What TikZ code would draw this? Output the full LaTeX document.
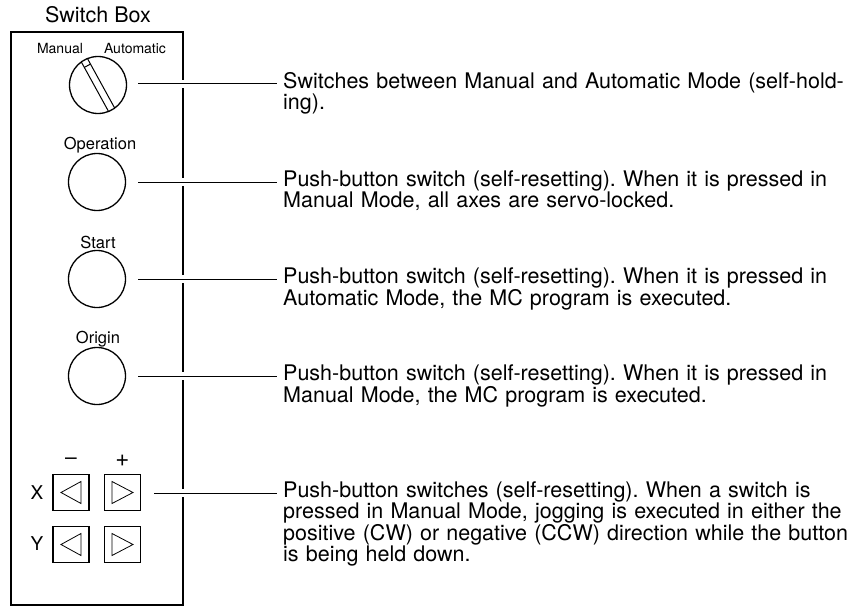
\documentclass[tikz,border=0pt]{standalone}
\usepackage{fontspec}
\setmainfont{TeX Gyre Heros}
\frenchspacing
\begin{document}
\frenchspacing
\begin{tikzpicture}[x=1pt,y=-1pt,
  desc/.style={anchor=base west,inner sep=0pt,text width=570pt,align=left,
    font=\fontsize{21.5}{18}\selectfont\frenchspacing},
  knob/.style={draw,circle,minimum size=57pt,inner sep=0pt,line width=1.3pt},
  jog/.style={draw,minimum size=36pt,inner sep=0pt,line width=1.3pt},
  lbl/.style={inner sep=0pt,font=\fontsize{16.5}{18}\selectfont},
  tiny/.style={inner sep=0pt,font=\fontsize{14}{16}\selectfont},
  sign/.style={inner sep=0pt,font=\fontsize{24}{24}\selectfont},
  conn/.style={line width=1pt,preaction={draw=white,line width=8pt}},
  tri/.style={line width=0.8pt}]
\useasboundingbox (0,0) rectangle (859,607);
% title and box
\node[inner sep=0pt,font=\fontsize{21.5}{24}\selectfont] (title) at (98,15) {Switch Box};
\draw[line width=2pt] (11,32) rectangle (183,605);
% dial
\node[tiny] (man) at (60,49) {Manual};
\node[tiny] (auto) at (135,49) {Automatic};
\node[knob] (dial) at (98,85) {};
\draw[line width=1pt] (81.29,61.9) -- (108.57,111.48);
\draw[line width=1pt] (87.43,58.52) -- (114.71,108.1);
\draw[line width=1pt] (84.33,67.42) -- (90.47,64.04);
% buttons
\node[lbl] (lop) at (100,145) {Operation};
\node[knob] (op) at (97,182) {};
\node[lbl] (lst) at (98,242) {Start};
\node[knob] (st) at (97,279) {};
\node[lbl] (lor) at (98,339) {Origin};
\node[knob] (orig) at (97,376) {};
% jog buttons
\node[inner sep=0pt,font=\fontsize{21}{22}\selectfont] (minus) at (71,461) {–};
\node[sign] (plus) at (122.5,461) {+};
\node[inner sep=0pt,font=\fontsize{19}{20}\selectfont] (xl) at (37,493) {X};
\node[inner sep=0pt,font=\fontsize{19}{20}\selectfont] (yl) at (37,544) {Y};
\node[jog] (xm) at (71,492.5) {};
\node[jog] (xp) at (122.5,492.5) {};
\node[jog] (ym) at (71,544.5) {};
\node[jog] (yp) at (122.5,544.5) {};
\foreach \s in {xm,ym}{
  \draw[tri] ([xshift=-10pt]\s.center) -- ([xshift=10pt,yshift=-11pt]\s.center)
    -- ([xshift=10pt,yshift=11pt]\s.center) -- cycle;}
\foreach \s in {xp,yp}{
  \draw[tri] ([xshift=10.5pt]\s.center) -- ([xshift=-10.5pt,yshift=-11pt]\s.center)
    -- ([xshift=-10.5pt,yshift=11pt]\s.center) -- cycle;}
% descriptions
\node[desc] (d1) at (283,88.5) {Switches between Manual and Automatic Mode (self-hold-\\ing).};
\node[desc] (d2) at (283,186.5) {Push-button switch (self-resetting). When it is pressed in\\Manual Mode, all axes are servo-locked.};
\node[desc] (d3) at (283,283.5) {Push-button switch (self-resetting). When it is pressed in\\Automatic Mode, the MC program is executed.};
\node[desc] (d4) at (283,380.5) {Push-button switch (self-resetting). When it is pressed in\\Manual Mode, the MC program is executed.};
\node[desc] (d5) at (283,497.5) {Push-button switches (self-resetting). When a switch is\\pressed in Manual Mode, jogging is executed in either the\\positive (CW) or negative (CCW) direction while the button\\is being held down.};
% connectors
\coordinate (c1) at (138,84);
\coordinate (c2) at (138,182);
\coordinate (c3) at (138,279);
\coordinate (c4) at (138,376);
\coordinate (c5) at (154,493);
\draw[conn] (c1) -- ([xshift=-6pt]c1 -| d1.west);
\draw[conn] (c2) -- ([xshift=-6pt]c2 -| d2.west);
\draw[conn] (c3) -- ([xshift=-6pt]c3 -| d3.west);
\draw[conn] (c4) -- ([xshift=-6pt]c4 -| d4.west);
\draw[conn] (c5) -- ([xshift=-6pt]c5 -| d5.west);
\end{tikzpicture}
\end{document}
